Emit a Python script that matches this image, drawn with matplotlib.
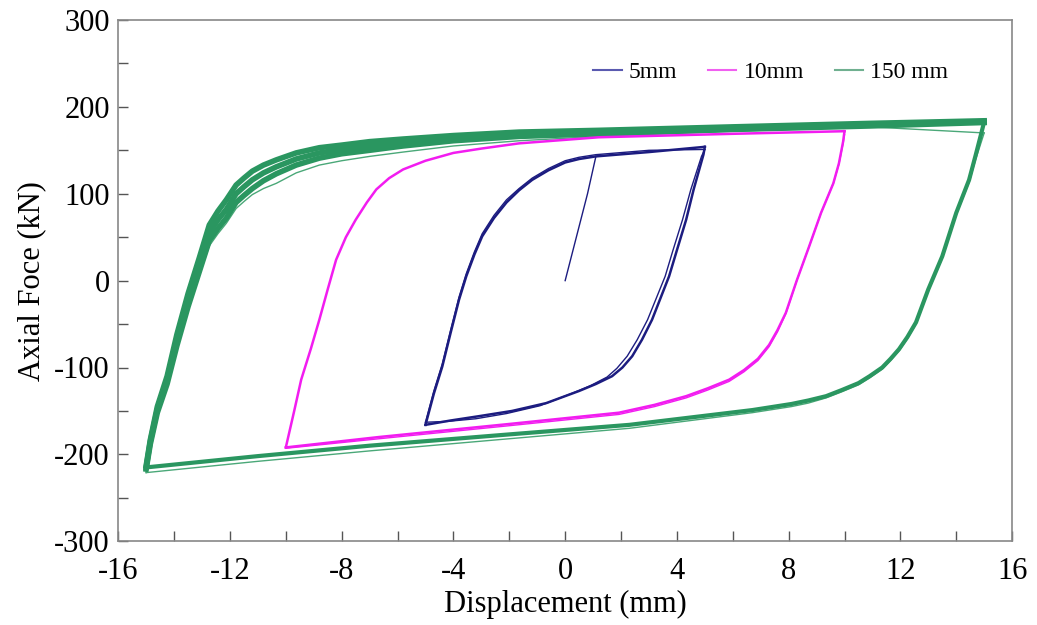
import matplotlib
matplotlib.use("Agg")
import matplotlib.pyplot as plt
from matplotlib.ticker import MultipleLocator

plt.rcParams['font.family'] = ['Liberation Serif', 'DejaVu Serif']
plt.rcParams['axes.unicode_minus'] = False

# ---- data ----
# 5 mm loop (blue)
blue_init_x = [0.0, 0.4, 0.8, 1.1]
blue_init_y = [0, 50, 100, 143]
blue_upper_x = [-5.0, -4.7, -4.4, -4.1, -3.8, -3.54, -3.25, -2.97, -2.55, -2.1, -1.65, -1.18,
                -0.6, 0.0, 0.5, 1.1, 3.0, 5.0]
blue_upper_y = [-166, -130, -99, -60, -22, 5, 30, 51, 72, 90, 104, 116, 127, 136, 140, 143,
                148, 154]
blue2_upper_y = [-163, -127, -96, -57, -19, 8, 33, 54, 75, 93, 106, 118, 129, 138, 142, 145,
                 150, 151]
blue_lower_x = [5.0, 4.95, 4.6, 4.33, 4.0, 3.72, 3.11, 2.75, 2.4, 2.05, 1.68, 1.1, 0.5, -0.68,
                -1.9, -3.08, -4.1, -5.0]
blue_lower_y = [154, 145, 105, 70, 35, 5, -45, -68, -87, -100, -110, -119, -127, -141, -150,
                -156, -161, -166]
blue2_lower_x = [5.0, 4.88, 4.5, 4.2, 3.86, 3.58, 2.95, 2.58, 2.22, 1.85, 1.5, 0.9, 0.3, -0.9,
                 -2.1, -3.2, -4.2, -5.0]
blue2_lower_y = [151, 143, 105, 70, 35, 5, -45, -68, -87, -101, -111, -121, -129, -144, -153,
                 -159, -162, -163]

# 10 mm loop (magenta)
mag_upper_x = [-10.0, -9.7, -9.45, -9.1, -8.8, -8.5, -8.2, -7.85, -7.5, -7.1, -6.76, -6.3,
               -5.8, -5.0, -4.0, -3.0, -1.65, 1.2, 6.0, 10.0]
mag_upper_y = [-192, -150, -114, -78, -45, -10, 24, 50, 70, 90, 105, 118, 128, 138, 147, 152,
               158, 165, 169, 172]
mag_lower_x = [10.0, 9.95, 9.8, 9.6, 9.16, 8.73, 8.3, 7.9, 7.6, 7.3, 6.9, 6.4, 5.87, 5.1,
               4.33, 3.2, 1.93, -2.0, -6.66, -10.0]
mag_lower_y = [172, 160, 135, 112, 78, 39, 1, -37, -57, -74, -90, -103, -114, -124, -133,
               -143, -152, -165, -180, -192]
mag2_lower_y = [168, 158, 134, 112, 78, 39, 1, -38, -59, -76, -92, -105, -116, -126, -135,
                -145, -154, -167, -182, -193]

# 15 mm loop (green)
grn_upper_x = [-15.0, -14.85, -14.6, -14.25, -13.9, -13.5, -13.1, -12.74, -12.43, -12.13,
               -11.78, -11.5, -11.2, -10.8, -10.34, -9.63, -8.8, -8.0, -7.0, -5.8, -4.0,
               -1.65, 1.2, 6.0, 10.9, 15.0]
grn_upper_y = [-215, -185, -148, -114, -68, -22, 18, 55, 70, 82, 100, 108, 116, 124, 131, 140,
               147, 151, 155, 159, 164, 168, 171, 176, 180, 183]
grn_hi_y = [-213, -183, -145, -110, -62, -15, 26, 64, 80, 93, 110, 118, 126, 133, 139, 147,
            153, 156, 160, 163, 167, 171, 173, 177, 181, 184]
grn_lo_y = [-217, -188, -152, -119, -75, -30, 10, 46, 60, 72, 90, 98, 106, 115, 123, 133,
            141, 146, 150, 155, 161, 166, 169, 174, 178, 182]
grn_lower_x = [15.0, 14.9, 14.7, 14.46, 14.0, 13.5, 13.0, 12.56, 12.25, 11.95, 11.65, 11.35,
               10.9, 10.5, 9.9, 9.34, 8.7, 8.1, 6.7, 2.3, -2.0, -7.0, -11.0, -15.0]
grn_lower_y = [183, 170, 145, 116, 78, 28, -10, -48, -65, -79, -90, -100, -110, -118, -126,
               -133, -138, -142, -149, -166, -177, -190, -202, -215]
grn2_lower_y = [170, 160, 140, 113, 76, 26, -12, -50, -67, -81, -92, -102, -112, -120, -128,
                -135, -141, -145, -152, -170, -182, -196, -208, -221]
grn2_upper_y = [-221, -192, -156, -122, -78, -33, 6, 40, 54, 66, 83, 91, 99, 106, 112, 124,
                133, 138, 143, 148, 155, 161, 166, 172, 177, 170]

blue = '#1c1c80'
magenta = '#f21cf0'
green = '#2a9660'

fig = plt.figure(figsize=(10.37, 6.25), dpi=100)
ax = fig.add_axes([0.114, 0.134, 0.862, 0.834])

# green
ax.plot(grn_upper_x, grn2_upper_y, color='#4aa878', lw=1.0)
ax.plot(grn_lower_x, grn2_lower_y, color='#4aa878', lw=1.0)
ax.plot(grn_upper_x, grn_hi_y, color=green, lw=4.0)
ax.plot(grn_upper_x, grn_lo_y, color=green, lw=4.0)
ax.plot(grn_upper_x, grn_upper_y, color=green, lw=4.0)
ax.plot(grn_lower_x, grn_lower_y, color=green, lw=3.0)
# magenta
ax.plot(mag_lower_x, mag2_lower_y, color=magenta, lw=1.0)
ax.plot(mag_upper_x, mag_upper_y, color=magenta, lw=1.8)
ax.plot(mag_lower_x, mag_lower_y, color=magenta, lw=1.8)
# blue
ax.plot(blue_init_x, blue_init_y, color=blue, lw=1.0)
ax.plot(blue_upper_x, blue2_upper_y, color=blue, lw=1.0)
ax.plot(blue2_lower_x, blue2_lower_y, color=blue, lw=1.0)
ax.plot(blue_upper_x, blue_upper_y, color=blue, lw=1.8)
ax.plot(blue_lower_x, blue_lower_y, color=blue, lw=1.8)

# legend handles
h1, = ax.plot([], [], color='#5a5ab0', lw=1.5, label='5mm')
h2, = ax.plot([], [], color='#f060f0', lw=1.5, label='10mm')
h3, = ax.plot([], [], color='#70b090', lw=1.5, label='150 mm')
ax.legend(handles=[h1, h2, h3], loc='center right', bbox_to_anchor=(0.952, 0.90),
          ncol=3, frameon=False, fontsize=17, handlelength=1.2, handletextpad=0.3,
          columnspacing=1.3)

ax.set_xlim(-16, 16)
ax.set_ylim(-300, 300)
ax.xaxis.set_major_locator(MultipleLocator(4))
ax.xaxis.set_minor_locator(MultipleLocator(2))
ax.yaxis.set_major_locator(MultipleLocator(100))
ax.yaxis.set_minor_locator(MultipleLocator(50))
ax.tick_params(which='both', direction='in', length=7, width=1, color='#555555',
               top=False, right=False, labelsize=22)
ax.tick_params(axis='x', which='major', pad=11)
ax.tick_params(axis='y', which='major', pad=6)
for s in ax.spines.values():
    s.set_color('#888888')
    s.set_linewidth(1.2)

ax.set_xlabel('Displacement (mm)', fontsize=22, labelpad=3)
ax.set_ylabel('Axial Foce (kN)', fontsize=22, labelpad=6)

fig.savefig('out.png', dpi=100, facecolor='white')
